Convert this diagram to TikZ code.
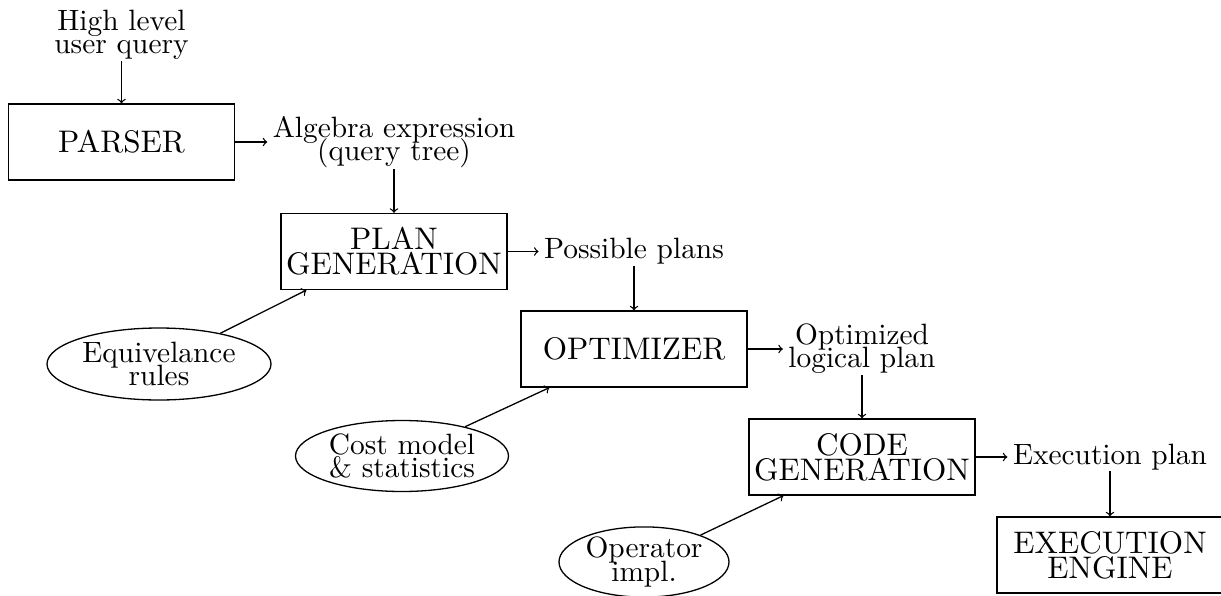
\documentclass[tikz,border=0pt]{standalone}
\usepackage{fontspec}
% the 10pt design of Latin Modern, used at every size
\setmainfont{lmroman10-regular}[Extension=.otf]
\usetikzlibrary{shapes.geometric}
% tight two-line labels: never fall back to \lineskip
\lineskiplimit=-100pt
\begin{document}
\begin{tikzpicture}[x=0.5pt,y=-0.5pt,
  every node/.style={font=\fontsize{14.7}{11.6}\selectfont, align=center},
  stage/.style={draw, line width=0.65pt, minimum width=113pt, minimum height=38pt, inner sep=0pt,
    font=\fontsize{15.6}{12.4}\selectfont},
  flowlabel/.style={inner xsep=2.6pt, inner ysep=0.5pt},
  resource/.style={draw, ellipse, line width=0.65pt, inner sep=0pt},
  link/.style={->, line width=0.65pt}]
\clip (0,0) rectangle (1221,595);

% processing stages
\node[stage] (parser) at (121.5,142) {PARSER};
\node[stage] (plan)   at (394,251.5) {PLAN\\GENERATION};
\node[stage] (opt)    at (634,349) {OPTIMIZER};
\node[stage] (code)   at (862,457) {CODE\\GENERATION};
\node[stage] (exec)   at (1110,555) {EXECUTION\\ENGINE};

% intermediate results
\node[flowlabel] (query)    at (121.5,35) {High level\\user query};
\node[flowlabel] (algebra)  at (394,142) {Algebra expression\\(query tree)};
\node[flowlabel] (plans)    at (634,251.5) {Possible plans};
\node[flowlabel] (logical)  at (862,349) {Optimized\\logical plan};
\node[flowlabel] (execplan) at (1110,457) {Execution plan};

% inputs feeding the stages
\node[resource, minimum width=112pt, minimum height=36pt] (equiv) at (159,364) {Equivelance\\rules};
\node[resource, minimum width=106.5pt, minimum height=35.5pt] (cost) at (402,456) {Cost model\\\& statistics};
\node[resource, minimum width=85pt, minimum height=35pt] (impl) at (644,562) {Operator\\impl.};

\coordinate (planin) at ([xshift=13pt]plan.south west);
\coordinate (optin)  at ([xshift=14.5pt]opt.south west);
\coordinate (codein) at ([xshift=17.5pt]code.south west);

% main flow
\draw[link] (query) -- (parser);
\draw[link] (parser) -- (algebra);
\draw[link] (algebra) -- (plan);
\draw[link] (plan) -- (plans);
\draw[link] (plans) -- (opt);
\draw[link] (opt) -- (logical);
\draw[link] (logical) -- (code);
\draw[link] (code) -- (execplan);
\draw[link] (execplan) -- (exec);

% side inputs
\draw[link] (equiv) -- (planin);
\draw[link] (cost) -- (optin);
\draw[link] (impl) -- (codein);
\end{tikzpicture}
\end{document}
